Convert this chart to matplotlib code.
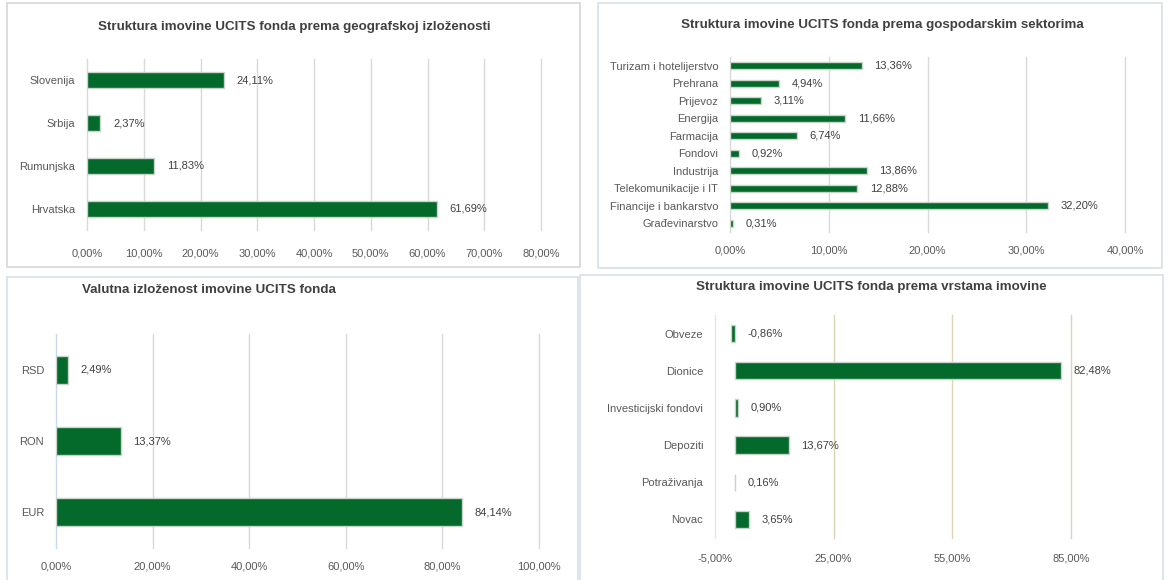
import matplotlib
matplotlib.use('Agg')
import matplotlib.pyplot as plt
from matplotlib.patches import Rectangle

plt.rcParams['font.family'] = ['Liberation Sans', 'DejaVu Sans']

# podaci
geo_labels = ['Hrvatska', 'Rumunjska', 'Srbija', 'Slovenija']
geo_values = [61.69, 11.83, 2.37, 24.11]
geo_ticks = [0, 10, 20, 30, 40, 50, 60, 70, 80]

sector_labels = ['Građevinarstvo', 'Financije i bankarstvo', 'Telekomunikacije i IT', 'Industrija',
                 'Fondovi', 'Farmacija', 'Energija', 'Prijevoz', 'Prehrana', 'Turizam i hotelijerstvo']
sector_values = [0.31, 32.20, 12.88, 13.86, 0.92, 6.74, 11.66, 3.11, 4.94, 13.36]
sector_ticks = [0, 10, 20, 30, 40]

currency_labels = ['EUR', 'RON', 'RSD']
currency_values = [84.14, 13.37, 2.49]
currency_ticks = [0, 20, 40, 60, 80, 100]

asset_labels = ['Novac', 'Potraživanja', 'Depoziti', 'Investicijski fondovi', 'Dionice', 'Obveze']
asset_values = [3.65, 0.16, 13.67, 0.90, 82.48, -0.86]
asset_ticks = [-5, 25, 55, 85]

GREEN = '#036a2b'
EDGE = '#c9d3c9'
W, H = 1169, 580

fig = plt.figure(figsize=(W / 100, H / 100), dpi=100)


def px_axes(x0, y0, x1, y1):
    return fig.add_axes([x0 / W, 1 - y1 / H, (x1 - x0) / W, (y1 - y0) / H])


def frame(x0, y0, x1, y1, color='#d9e2ec'):
    fig.add_artist(Rectangle((x0 / W, 1 - y1 / H), (x1 - x0) / W, (y1 - y0) / H,
                             transform=fig.transFigure, fill=False, edgecolor=color, linewidth=1.3))


def title(x, y, s):
    fig.text(x / W, 1 - y / H, s, ha='center', va='center', fontsize=9.6,
             fontweight='bold', color='#404040')


def fmt(v):
    return f'{v:.2f}'.replace('.', ',') + '%'


def bar_panel(ax, labels, values, ticks, height, grid_color='#d9d9d9', xpad=9):
    y = list(range(len(labels)))
    ax.barh(y, values, height=height, color=GREEN, edgecolor=EDGE, linewidth=1, zorder=3)
    ax.set_xlim(ticks[0], ticks[-1])
    ax.set_ylim(-0.5, len(labels) - 0.5)
    ax.set_xticks(ticks)
    ax.set_xticklabels([fmt(t) for t in ticks])
    ax.set_yticks(y)
    ax.set_yticklabels(labels)
    ax.tick_params(length=0, labelsize=8, labelcolor='#595959')
    ax.tick_params(axis='y', pad=8.5)
    ax.tick_params(axis='x', pad=xpad)
    for s in ax.spines.values():
        s.set_visible(False)
    ax.grid(axis='x', color=grid_color, linewidth=1, zorder=0)
    for g in ax.get_xgridlines():
        g.set_clip_on(False)
    ax.set_facecolor('none')
    for yi, v in zip(y, values):
        ax.annotate(fmt(v), (max(v, 0), yi), xytext=(9, 0), textcoords='offset points',
                    ha='left', va='center', fontsize=8, color='#404040')


# okviri
frame(7, 3, 580, 267, '#d9d9d9')
frame(598, 3, 1162, 268)
frame(7, 277, 578, 582)
frame(580, 275, 1163, 582)

# geografska izloženost
ax1 = px_axes(87, 59, 541, 230)
bar_panel(ax1, geo_labels, geo_values, geo_ticks, 0.37, xpad=13)
title(294, 27, 'Struktura imovine UCITS fonda prema geografskoj izloženosti')

# gospodarski sektori
ax2 = px_axes(730, 57, 1125, 232)
bar_panel(ax2, sector_labels, sector_values, sector_ticks, 0.42, xpad=10)
title(882, 25, 'Struktura imovine UCITS fonda prema gospodarskim sektorima')

# valute
ax3 = px_axes(56, 334, 539, 548)
bar_panel(ax3, currency_labels, currency_values, currency_ticks, 0.39, xpad=10)
ax3.get_xgridlines()[0].set_color('#c6d9ee')
title(209, 290, 'Valutna izloženost imovine UCITS fonda')

# vrste imovine
ax4 = px_axes(715, 315, 1071, 538)
bar_panel(ax4, asset_labels, asset_values, asset_ticks, 0.47, grid_color='#ddd4b6', xpad=11)
ax4.get_xgridlines()[0].set_color('#e6e6e6')
title(871, 287, 'Struktura imovine UCITS fonda prema vrstama imovine')

fig.savefig('out.png', dpi=100)
